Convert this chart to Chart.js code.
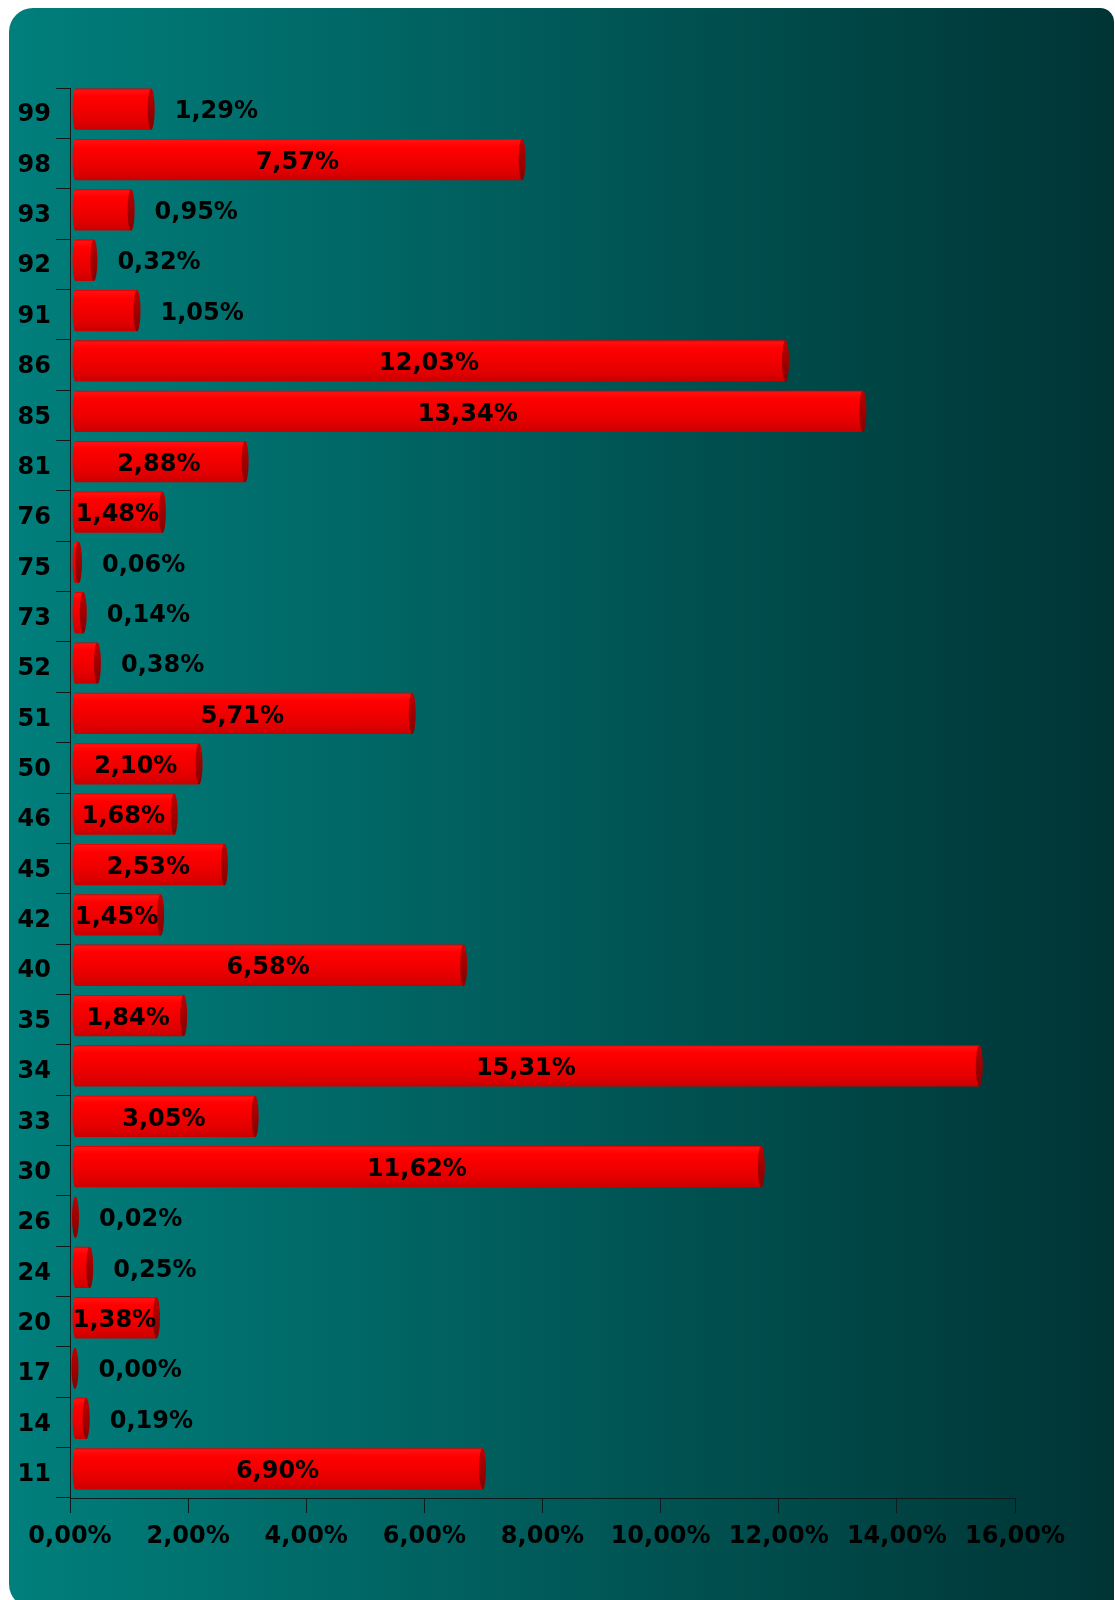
<!DOCTYPE html>
<html>
<head>
<meta charset="utf-8">
<script src="https://cdn.jsdelivr.net/npm/chart.js@4/dist/chart.umd.min.js"></script>
<style>
    body { margin: 0; background: #ffffff; }
    #wrap { width: 1115px; height: 1600px; }
</style>
</head>
<body>
<div id="wrap"><canvas id="bar-chart" width="1115" height="1600"></canvas></div>
<script>
// categories top to bottom, values in percent
var categories = ["99", "98", "93", "92", "91", "86", "85", "81", "76", "75", "73", "52", "51", "50",
                  "46", "45", "42", "40", "35", "34", "33", "30", "26", "24", "20", "17", "14", "11"];
var shares = [1.29, 7.57, 0.95, 0.32, 1.05, 12.03, 13.34, 2.88, 1.48, 0.06, 0.14, 0.38, 5.71, 2.10,
              1.68, 2.53, 1.45, 6.58, 1.84, 15.31, 3.05, 11.62, 0.02, 0.25, 1.38, 0.00, 0.19, 6.90];
var xTicks = [0, 2, 4, 6, 8, 10, 12, 14, 16];

var FONT = "bold 24px 'DejaVu Sans'";
var SHIFT = 4;   // bars sit a bit above the band centre (3d look)
var GAP = 2;     // bars start just right of the axis line
var CAP = 3;     // the end cap sticks out a little past the value

function pct(v) {
    return v.toFixed(2).replace('.', ',') + '%';
}

var backgroundPlugin = {
    id: 'panel',
    beforeDraw: function(chart) {
        var ctx = chart.ctx;
        ctx.save();
        ctx.fillStyle = '#ffffff';
        ctx.fillRect(0, 0, chart.width, chart.height);
        var g = ctx.createLinearGradient(9, 0, 1115, 0);
        g.addColorStop(0, '#007f7c');
        g.addColorStop(1, '#003435');
        ctx.fillStyle = g;
        ctx.beginPath();
        ctx.roundRect(9, 8, 1105, 1600, [24, 14, 0, 24]);
        ctx.fill();
        ctx.restore();
    }
};

// draws each bar as a red cylinder from the element geometry, plus the value label
var cylinderPlugin = {
    id: 'cylinders',
    afterDatasetsDraw: function(chart) {
        var ctx = chart.ctx;
        var meta = chart.getDatasetMeta(0);
        var rl = 3;     // left end curve
        var rc = 3.5;   // right cap
        ctx.save();
        ctx.translate(GAP, -SHIFT);
        meta.data.forEach(function(el, i) {
            var h = el.height;
            var top = el.y - h / 2;
            var bottom = el.y + h / 2;
            var x0 = el.base;
            var x1 = Math.max(el.x + CAP * Math.min(1, el.x - x0), x0 + rl);

            var g = ctx.createLinearGradient(0, top, 0, bottom);
            g.addColorStop(0, '#d80000');
            g.addColorStop(0.04, '#ff1010');
            g.addColorStop(0.2, '#ff0000');
            g.addColorStop(0.5, '#f20000');
            g.addColorStop(0.8, '#e00000');
            g.addColorStop(1, '#c80000');
            ctx.fillStyle = g;
            ctx.beginPath();
            ctx.moveTo(x1, top);
            ctx.lineTo(x0 + rl, top);
            ctx.ellipse(x0 + rl, el.y, rl, h / 2, 0, -Math.PI / 2, Math.PI / 2, true);
            ctx.lineTo(x1, bottom);
            ctx.closePath();
            ctx.fill();

            var c = ctx.createLinearGradient(0, top, 0, bottom);
            c.addColorStop(0, '#c00000');
            c.addColorStop(0.5, '#a00000');
            c.addColorStop(1, '#880000');
            ctx.fillStyle = c;
            ctx.beginPath();
            ctx.ellipse(x1, el.y, rc, h / 2, 0, 0, Math.PI * 2);
            ctx.fill();

            // value label: centred when it fits, otherwise right of the bar
            var text = pct(shares[i]);
            var ty = el.y + SHIFT - 1;
            ctx.font = FONT;
            ctx.fillStyle = '#000000';
            ctx.textBaseline = 'middle';
            var w = ctx.measureText(text).width;
            if (el.x - x0 >= w - 4) {
                ctx.textAlign = 'center';
                ctx.fillText(text, (x0 + x1) / 2, ty);
            } else {
                ctx.textAlign = 'left';
                ctx.fillText(text, x1 + rc + 20, ty);
            }
        });
        ctx.restore();
    }
};

window.onload = function() {
    new Chart(document.getElementById("bar-chart"), {
        type: 'bar',
        data: {
            labels: categories,
            datasets: [{
                label: "Share",
                data: shares,
                backgroundColor: 'rgba(0,0,0,0)',
                borderWidth: 0,
                categoryPercentage: 1,
                barPercentage: 0.82
            }]
        },
        options: {
            indexAxis: 'y',
            responsive: false,
            animation: false,
            layout: { padding: { left: 0, top: 88, right: 100, bottom: 2 } },
            plugins: {
                legend: { display: false },
                tooltip: { enabled: false }
            },
            scales: {
                x: {
                    min: 0,
                    max: 16,
                    afterBuildTicks: function(scale) {
                        scale.ticks = xTicks.map(function(v) { return { value: v }; });
                    },
                    afterFit: function(scale) { scale.height = 100; },
                    grid: { drawOnChartArea: false, tickLength: 15, color: '#0c1c1c' },
                    border: { color: '#0c1c1c', width: 1 },
                    ticks: {
                        color: '#000000',
                        padding: 9,
                        maxRotation: 0,
                        font: { family: 'DejaVu Sans', size: 24, weight: 'bold' },
                        callback: function(v) { return pct(v); }
                    }
                },
                y: {
                    afterFit: function(scale) { scale.width = 70; },
                    grid: { drawOnChartArea: false, tickLength: 14, color: '#0c1c1c' },
                    border: { color: '#0c1c1c', width: 1 },
                    ticks: {
                        color: '#000000',
                        padding: 5,
                        labelOffset: 2,
                        font: { family: 'DejaVu Sans', size: 24, weight: 'bold' }
                    }
                }
            }
        },
        plugins: [backgroundPlugin, cylinderPlugin]
    });
};
</script>
</body>
</html>
